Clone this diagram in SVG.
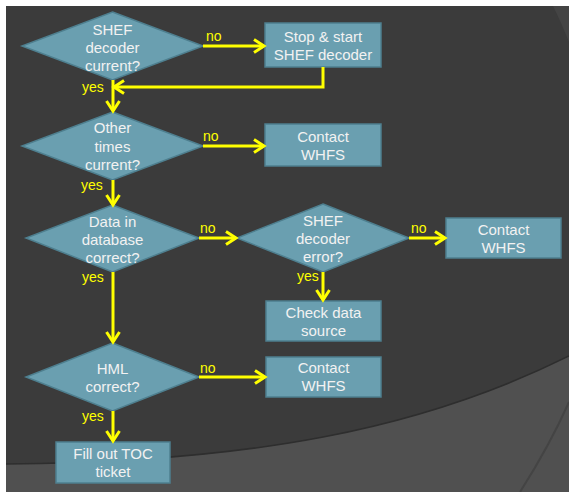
<svg xmlns="http://www.w3.org/2000/svg" width="569" height="492" viewBox="0 0 569 492">
<style>
.shape{fill:#6a9fb0;stroke:#4e7f8f;stroke-width:1.5}
.t{font-family:"Liberation Sans",Arial,sans-serif;font-size:15px;fill:#f2f2f2;text-anchor:middle}
.lbl{font-family:"Liberation Sans",Arial,sans-serif;font-size:14px;fill:#ffff00}
.c{fill:none;stroke:#ffff00;stroke-width:3}
</style>
<defs>
<marker id="arr" markerUnits="userSpaceOnUse" markerWidth="16" markerHeight="16" refX="12" refY="8" orient="auto">
<path d="M2,1.5 L12,8 L2,14.5" fill="none" stroke="#ffff00" stroke-width="3"/>
</marker>
</defs>
<rect x="0" y="0" width="569" height="492" fill="#ffffff"/>
<rect x="6" y="6" width="563" height="486" fill="#3b3b3b"/>
<path d="M553,6 Q561,22 569,42 L569,6 Z" fill="#444444"/>
<path d="M6,464 C250,462 420,430 569,356 L569,492 L6,492 Z" fill="#505050"/>
<path d="M6,464 C250,462 420,430 569,356" fill="none" stroke="#2e2e2e" stroke-width="1.5"/>
<path d="M520,492 Q550,445 569,402" fill="none" stroke="#444444" stroke-width="2"/>

<g id="d1">
<polygon class="shape" points="112.5,12 203,46 112.5,80 22,46"/>
<text class="t" x="112.5" y="34.5">SHEF</text>
<text class="t" x="112.5" y="52.5">decoder</text>
<text class="t" x="112.5" y="70.5">current?</text>
</g>
<g id="b1">
<rect class="shape" x="265" y="23" width="116" height="44"/>
<text class="t" x="323" y="42">Stop &amp; start</text>
<text class="t" x="323" y="60">SHEF decoder</text>
</g>
<g id="d2">
<polygon class="shape" points="112.5,112 203,146 112.5,180 22,146"/>
<text class="t" x="112.5" y="133">Other</text>
<text class="t" x="112.5" y="151.5">times</text>
<text class="t" x="112.5" y="169.5">current?</text>
</g>
<g id="b2">
<rect class="shape" x="265" y="124" width="116" height="42"/>
<text class="t" x="323" y="142">Contact</text>
<text class="t" x="323" y="160">WHFS</text>
</g>
<g id="d3">
<polygon class="shape" points="112.5,205 199,238 112.5,272 26,238"/>
<text class="t" x="112.5" y="227">Data in</text>
<text class="t" x="112.5" y="245">database</text>
<text class="t" x="112.5" y="262.5">correct?</text>
</g>
<g id="d4">
<polygon class="shape" points="323,204 409,238 323,272 237,238"/>
<text class="t" x="323" y="226">SHEF</text>
<text class="t" x="323" y="244">decoder</text>
<text class="t" x="323" y="262">error?</text>
</g>
<g id="b3">
<rect class="shape" x="446" y="218" width="115" height="40"/>
<text class="t" x="503.5" y="235">Contact</text>
<text class="t" x="503.5" y="253">WHFS</text>
</g>
<g id="b4">
<rect class="shape" x="266" y="301" width="115" height="40"/>
<text class="t" x="323.5" y="318">Check data</text>
<text class="t" x="323.5" y="336">source</text>
</g>
<g id="d5">
<polygon class="shape" points="112.5,343 199,377 112.5,411 26,377"/>
<text class="t" x="112.5" y="374">HML</text>
<text class="t" x="112.5" y="392">correct?</text>
</g>
<g id="b5">
<rect class="shape" x="266" y="357" width="115" height="40"/>
<text class="t" x="323.5" y="373">Contact</text>
<text class="t" x="323.5" y="391">WHFS</text>
</g>
<g id="b6">
<rect class="shape" x="56" y="442" width="114" height="41"/>
<text class="t" x="113" y="459">Fill out TOC</text>
<text class="t" x="113" y="477">ticket</text>
</g>

<g id="connectors">
<path class="c" d="M203,46 H264" marker-end="url(#arr)"/>
<path class="c" d="M323,67 V87 H114" marker-end="url(#arr)"/>
<path class="c" d="M113,80 V111" marker-end="url(#arr)"/>
<path class="c" d="M203,146 H264" marker-end="url(#arr)"/>
<path class="c" d="M113,180 V205" marker-end="url(#arr)"/>
<path class="c" d="M199,238 H236" marker-end="url(#arr)"/>
<path class="c" d="M409,238 H445" marker-end="url(#arr)"/>
<path class="c" d="M323,272 V300" marker-end="url(#arr)"/>
<path class="c" d="M113,272 V342" marker-end="url(#arr)"/>
<path class="c" d="M199,377 H265" marker-end="url(#arr)"/>
<path class="c" d="M113,411 V441" marker-end="url(#arr)"/>
<text class="lbl" x="206" y="41">no</text>
<text class="lbl" x="82" y="92">yes</text>
<text class="lbl" x="203" y="141">no</text>
<text class="lbl" x="81" y="190">yes</text>
<text class="lbl" x="200" y="233">no</text>
<text class="lbl" x="411" y="233">no</text>
<text class="lbl" x="82" y="282">yes</text>
<text class="lbl" x="297" y="281">yes</text>
<text class="lbl" x="200" y="373">no</text>
<text class="lbl" x="82" y="421">yes</text>
</g>
</svg>
